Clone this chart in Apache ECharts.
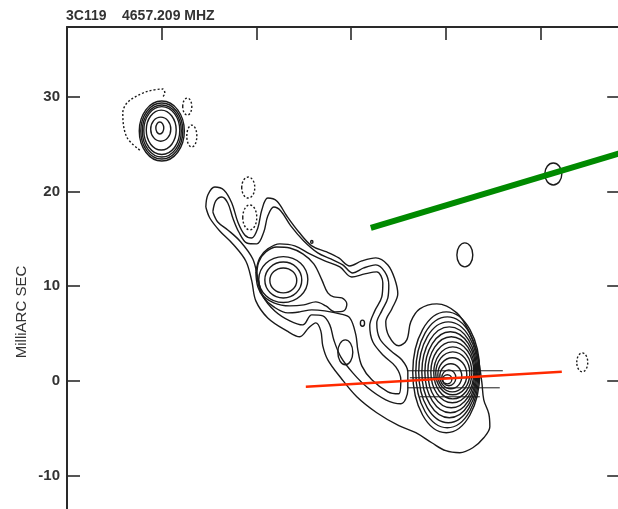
<!DOCTYPE html>
<html><head><meta charset="utf-8">
<script src="https://cdn.jsdelivr.net/npm/echarts@6/dist/echarts.min.js"></script>
<style>html,body{margin:0;padding:0;background:#fff;overflow:hidden;width:618px;height:509px}#c{width:700px;height:620px}</style>
</head><body><div id="c"></div>
<script>
// ---------- text ----------
const chartTitle = '3C119    4657.209 MHZ';
const yAxisName = 'MilliARC SEC';
const yTickLabels = [-10, 0, 10, 20, 30];

// ---------- axis ranges (milliarcsec) ----------
const xRange = [-40, 20];
const yRange = [-20, 37.4];
const tickStep = 10;

// ---------- contour polylines (mas) ----------
const jetOuter = [[-25.34,18.37],[-25.13,19.64],[-24.39,20.49],[-23.44,20.17],[-22.60,18.80],[-21.96,16.79],[-21.23,15.42],[-20.49,15.10],[-19.85,16.16],[-19.43,18.06],[-18.80,19.32],[-17.85,19.01],[-16.79,17.42],[-15.52,15.73],[-14.15,14.26],[-12.57,13.62],[-11.30,12.99],[-10.14,12.14],[-8.87,12.67],[-7.39,12.99],[-6.12,12.25],[-5.39,10.77],[-5.07,9.19],[-5.70,7.60],[-6.34,6.23],[-6.02,4.75],[-4.96,3.70],[-4.12,4.33],[-3.70,6.23],[-2.75,7.60],[-0.95,8.13],[1.16,7.18],[2.53,5.07],[3.38,2.53],[3.80,-0.11],[4.01,-2.01],[4.54,-3.48],[4.65,-4.86],[4.01,-6.02],[2.85,-7.08],[1.48,-7.60],[0,-7.39],[-1.48,-6.55],[-3.17,-5.49],[-4.96,-4.75],[-7.29,-3.38],[-9.40,-1.69],[-11.09,0.32],[-12.46,2.22],[-12.99,3.70],[-13.20,5.28],[-13.73,6.12],[-14.47,5.60],[-15.42,4.65],[-16.79,5.28],[-18.80,6.65],[-20.06,8.45],[-20.49,10.56],[-21.12,12.67],[-22.49,14.47],[-23.87,15.84],[-24.92,17.21]];
const jetSecond = [[-24.60,17.85],[-24.29,19.01],[-23.65,19.43],[-23.02,18.80],[-22.49,17.21],[-21.86,15.73],[-21.01,14.57],[-19.96,14.47],[-19.22,15.73],[-18.80,17.42],[-18.16,18.37],[-17.42,17.95],[-16.37,16.37],[-15.00,14.78],[-13.52,13.52],[-12.14,12.88],[-10.88,12.25],[-9.82,11.40],[-8.66,11.93],[-7.39,12.25],[-6.44,11.51],[-6.02,10.14],[-6.12,8.77],[-6.76,7.39],[-7.29,6.12],[-6.97,4.44],[-5.81,3.17],[-4.65,2.22],[-4.01,0.95],[-4.01,-0.95],[-4.75,-2.43],[-6.34,-2.01],[-8.24,-0.74],[-9.82,0.84],[-11.09,2.53],[-11.83,4.33],[-12.25,5.91],[-12.99,6.86],[-14.15,6.97],[-15.10,5.91],[-16.47,6.34],[-18.06,7.39],[-19.33,8.98],[-19.85,10.88],[-20.38,12.88],[-21.65,14.68],[-23.02,15.95],[-24.08,16.79]];
const jetThird = [[-20.06,11.51],[-19.64,12.99],[-18.80,13.94],[-17.53,14.47],[-15.95,14.26],[-14.36,13.41],[-12.78,12.67],[-11.19,12.04],[-9.93,10.98],[-8.55,11.30],[-7.29,11.51],[-6.65,10.35],[-6.76,8.87],[-7.50,7.39],[-8.03,5.81],[-7.71,4.12],[-6.55,2.64],[-5.28,1.48],[-4.75,0.11],[-4.96,-1.37],[-6.12,-1.16],[-7.81,0.11],[-8.87,1.58],[-9.29,3.27],[-9.50,4.86],[-10.14,6.65],[-11.19,7.08],[-12.78,7.39],[-14.15,7.50],[-15.42,7.29],[-16.68,7.18],[-18.16,7.81],[-19.22,8.77],[-19.85,9.93]];
const knotNeck = [[-19.96,11.19],[-19.75,12.57],[-19.01,13.62],[-17.85,14.15],[-16.47,14.04],[-15.10,13.41],[-13.94,12.36],[-13.09,10.67],[-12.46,9.29],[-11.83,8.87],[-10.98,8.77],[-10.45,8.13],[-10.77,7.39],[-11.72,7.29],[-12.67,7.92],[-13.73,8.34],[-14.99,8.03],[-16.47,7.92],[-18.16,8.24],[-19.43,9.19]];
const northNegArc = [[-32.31,24.39],[-33.69,25.77],[-34.11,28.30],[-33.58,29.46],[-32.00,30.41],[-30.94,30.73],[-29.88,30.84],[-29.67,30.41],[-29.99,29.89]];

// ---------- elliptical contours: [cx, cy, rx, ry] (mas) ----------
const coreRings = [[0.05,0.90,3.54,6.39],[0.16,0.90,3.33,5.86],[0.26,0.90,3.12,5.33],[0.37,0.90,2.90,4.80],[0.48,0.90,2.69,4.28],[0.58,0.90,2.48,3.75],[0.69,0.90,2.27,3.22],[0.74,0.84,2.01,2.75],[0.74,0.79,1.80,2.27],[0.69,0.63,1.53,1.80],[0.53,0.48,1.16,1.32],[0.32,0.32,0.74,0.84],[0.16,0.16,0.48,0.48]];
const northRings = [[-29.99,26.40,2.38,3.17],[-29.99,26.40,2.22,2.96],[-29.99,26.40,2.06,2.75],[-29.99,26.45,1.90,2.53],[-30.05,26.50,1.58,2.11],[-30.10,26.60,1.06,1.27],[-30.20,26.72,0.42,0.63]];
const knotRings = [[-17.16,10.61,1.42,1.32],[-17.16,10.66,1.95,1.90],[-17.16,10.70,2.59,2.43]];
const smallPositive = [[2.01,13.31,0.84,1.27],[11.35,21.86,0.90,1.16],[-10.61,3.01,0.79,1.32],[-8.80,6.09,0.22,0.32],[-14.15,14.68,0.12,0.15]];
const smallNegative = [[-27.30,28.99,0.48,0.90],[-26.82,25.87,0.53,1.16],[-20.86,20.43,0.69,1.11],[-20.70,17.27,0.74,1.32],[14.41,1.95,0.58,1.00]];

// ---------- core vectors: [x1, x2, y] ----------
const coreVectors = [[-4.01,6.02,1.06],[-3.80,3.80,0.32],[-4.01,5.70,-0.74],[-2.75,3.59,-1.69]];

// ---------- overlay lines ----------
const greenLine = [[-7.92,16.16],[20,24.55]];
const redLine = [[-14.78,-0.63],[12.25,0.95]];

// ================= build =================
const ink = '#1a1a1a';
const closed = p => p.concat([p[0]]);
const contourLine = (pts, dashed) => ({
  type: 'line', data: pts, symbol: 'none', smooth: 0.35, silent: true, z: 3,
  lineStyle: { color: ink, width: 1.4, type: dashed ? [2, 2] : 'solid' }
});
const ellipseSeries = (rows, dashed) => ({
  type: 'custom', silent: true, z: 3,
  encode: { x: 0, y: 1 },
  data: rows,
  renderItem: (params, api) => {
    const c = api.coord([api.value(0), api.value(1)]);
    const s = api.size([api.value(2), api.value(3)], [api.value(0), api.value(1)]);
    return { type: 'ellipse', shape: { cx: c[0], cy: c[1], rx: s[0], ry: s[1] },
      style: { fill: 'none', stroke: ink, lineWidth: 1.4, lineDash: dashed ? [2, 2] : null } };
  }
});

const series = [
  contourLine(closed(jetOuter)),
  contourLine(closed(jetSecond)),
  contourLine(closed(jetThird)),
  contourLine(closed(knotNeck)),
  contourLine(northNegArc, true),
  ellipseSeries(coreRings, false),
  ellipseSeries(northRings, false),
  ellipseSeries(knotRings, false),
  ellipseSeries(smallPositive, false),
  ellipseSeries(smallNegative, true)
];
coreVectors.forEach(v => series.push({
  type: 'line', data: [[v[0], v[2]], [v[1], v[2]]], symbol: 'none', silent: true, z: 3,
  lineStyle: { color: ink, width: 1 }
}));
series.push({ type: 'line', data: greenLine, symbol: 'none', silent: true, z: 5,
  lineStyle: { color: '#008a00', width: 6 } });
series.push({ type: 'line', data: redLine, symbol: 'none', silent: true, z: 5,
  lineStyle: { color: '#ff2a00', width: 2.5 } });

const axisCol = '#2a2a2a';
const chart = echarts.init(document.getElementById('c'), null, { renderer: 'canvas' });
chart.setOption({
  animation: false,
  backgroundColor: '#fff',
  grid: { left: 67, top: 27, width: 568.2, height: 543 },
  xAxis: [{
    type: 'value', position: 'top', min: xRange[0], max: xRange[1], interval: tickStep,
    axisLine: { show: true, onZero: false, lineStyle: { color: axisCol, width: 2 } },
    axisTick: { show: true, inside: true, length: 13, lineStyle: { color: axisCol, width: 1.6 } },
    axisLabel: { show: false }, splitLine: { show: false }
  }],
  yAxis: [{
    type: 'value', position: 'left', min: yRange[0], max: yRange[1], interval: tickStep,
    axisLine: { show: true, onZero: false, lineStyle: { color: axisCol, width: 2 } },
    axisTick: { show: true, inside: true, length: 13, lineStyle: { color: axisCol, width: 1.6 } },
    axisLabel: { show: true, margin: 7, color: '#333', fontWeight: 'bold', fontSize: 15,
      fontFamily: '"Liberation Sans", Arial, sans-serif',
      formatter: v => yTickLabels.indexOf(v) >= 0 ? String(v) : '' },
    splitLine: { show: false }
  }, {
    type: 'value', position: 'right', offset: -16, min: yRange[0], max: yRange[1], interval: tickStep,
    axisLine: { show: false, onZero: false },
    axisTick: { show: true, inside: true, length: 12, lineStyle: { color: axisCol, width: 1.6 } },
    axisLabel: { show: false }, splitLine: { show: false }
  }],
  graphic: [
    { type: 'text', left: 66, top: 9, silent: true,
      style: { text: chartTitle, font: 'bold 14px "Liberation Sans", Arial, sans-serif', fill: '#333' } },
    { type: 'text', x: 22, y: 312, rotation: Math.PI / 2, silent: true,
      style: { text: yAxisName, font: '15px "Liberation Sans", Arial, sans-serif', fill: '#333',
        align: 'center', verticalAlign: 'middle', textAlign: 'center', textVerticalAlign: 'middle' } }
  ],
  series: series
});
</script></body></html>
